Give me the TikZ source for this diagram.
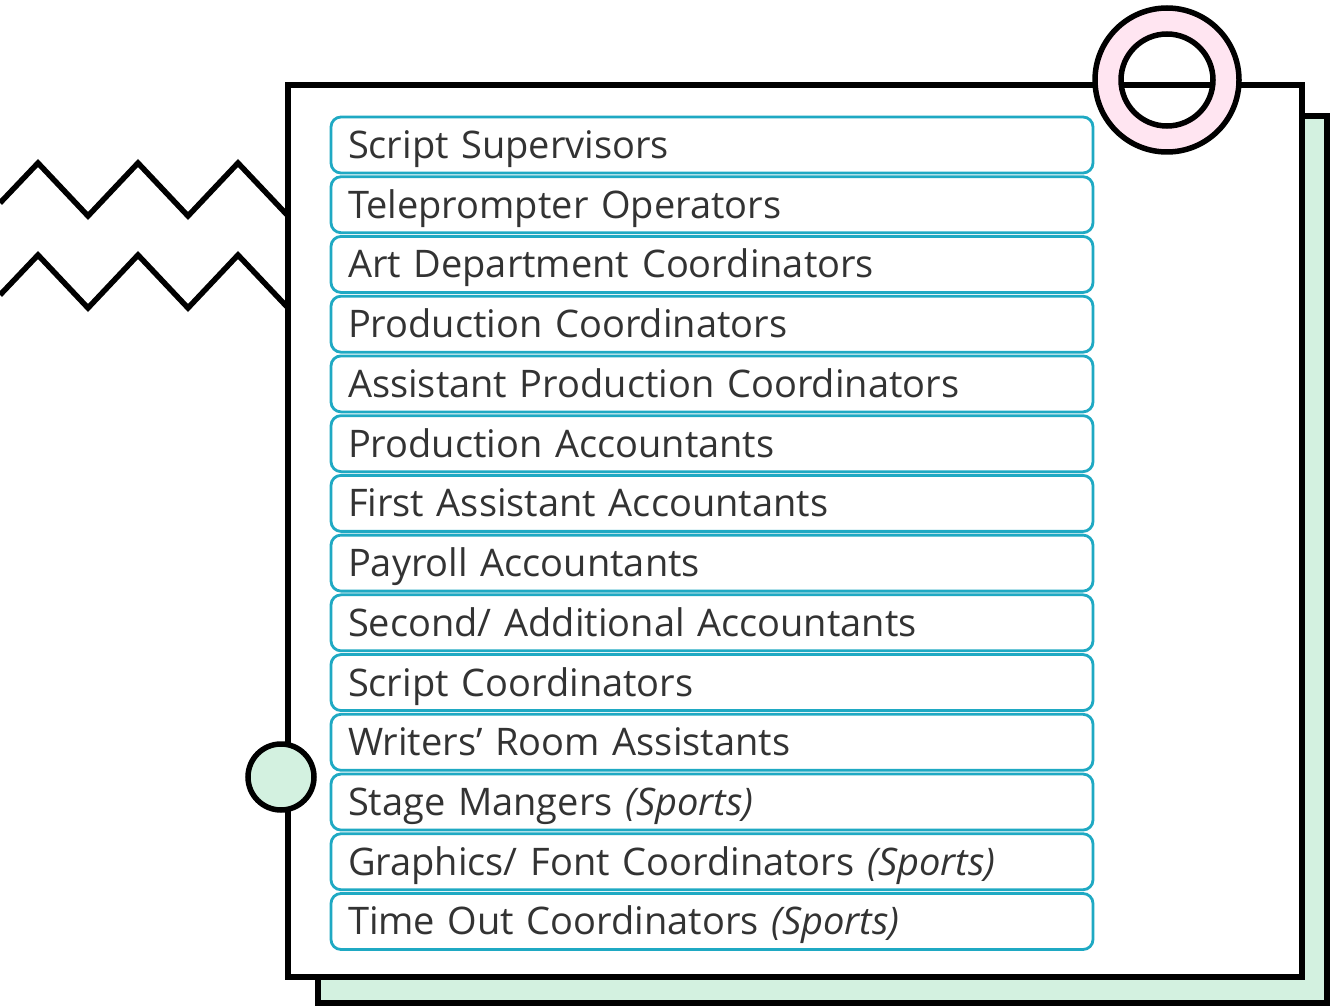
\documentclass[tikz,border=0pt]{standalone}
\usepackage{fontspec}
\setmainfont{Open Sans}
\usepackage{tikz}
\usetikzlibrary{positioning}
\definecolor{rowline}{HTML}{1FA9C3}
\definecolor{ringpink}{HTML}{FFE5F1}
\definecolor{mint}{HTML}{D3F1E0}
\definecolor{inkgray}{HTML}{333333}

\begin{document}
\begin{tikzpicture}[x=1pt, y=-1pt,
    row/.style={draw=rowline, line width=2.8pt, rounded corners=10pt, fill=white,
      minimum height=56pt, text width=728pt, inner xsep=17pt, inner ysep=0pt, outer sep=0pt,
      align=left, anchor=west, text=inkgray, font=\fontsize{38}{46}\selectfont,
      text height=27pt, text depth=0pt},
    heavy/.style={line width=5.5pt}]
  \useasboundingbox (0, 0) rectangle (1331, 1008);
  \draw [heavy, fill=mint] (318, 116) rectangle (1327, 1003);
  \foreach \dy in {0, 92}
    \draw [heavy] (0, 203+\dy) -- (38, 163+\dy) -- (88, 216+\dy) -- (138, 163+\dy)
      -- (188, 216+\dy) -- (238, 163+\dy) -- (290, 218+\dy);
  \draw [heavy, fill=white] (288, 85) rectangle (1302, 977);

  \foreach \name [count=\i] in {Script Supervisors, Teleprompter Operators,
      Art Department Coordinators, Production Coordinators,
      Assistant Production Coordinators, Production Accountants,
      First Assistant Accountants, Payroll Accountants,
      Second/ Additional Accountants, Script Coordinators,
      Writers’ Room Assistants, {Stage Mangers \textit{(Sports)}},
      {Graphics/ Font Coordinators \textit{(Sports)}},
      {Time Out Coordinators \textit{(Sports)}}}
    \node [row] (row\i) at (331, {145+(\i-1)*59.73}) {\name};

  \draw [heavy, fill=mint] (281, 777) circle (33);
  \draw [heavy, fill=ringpink, even odd rule] (1167, 80) circle (72) (1167, 80) circle (46);
\end{tikzpicture}
\end{document}
